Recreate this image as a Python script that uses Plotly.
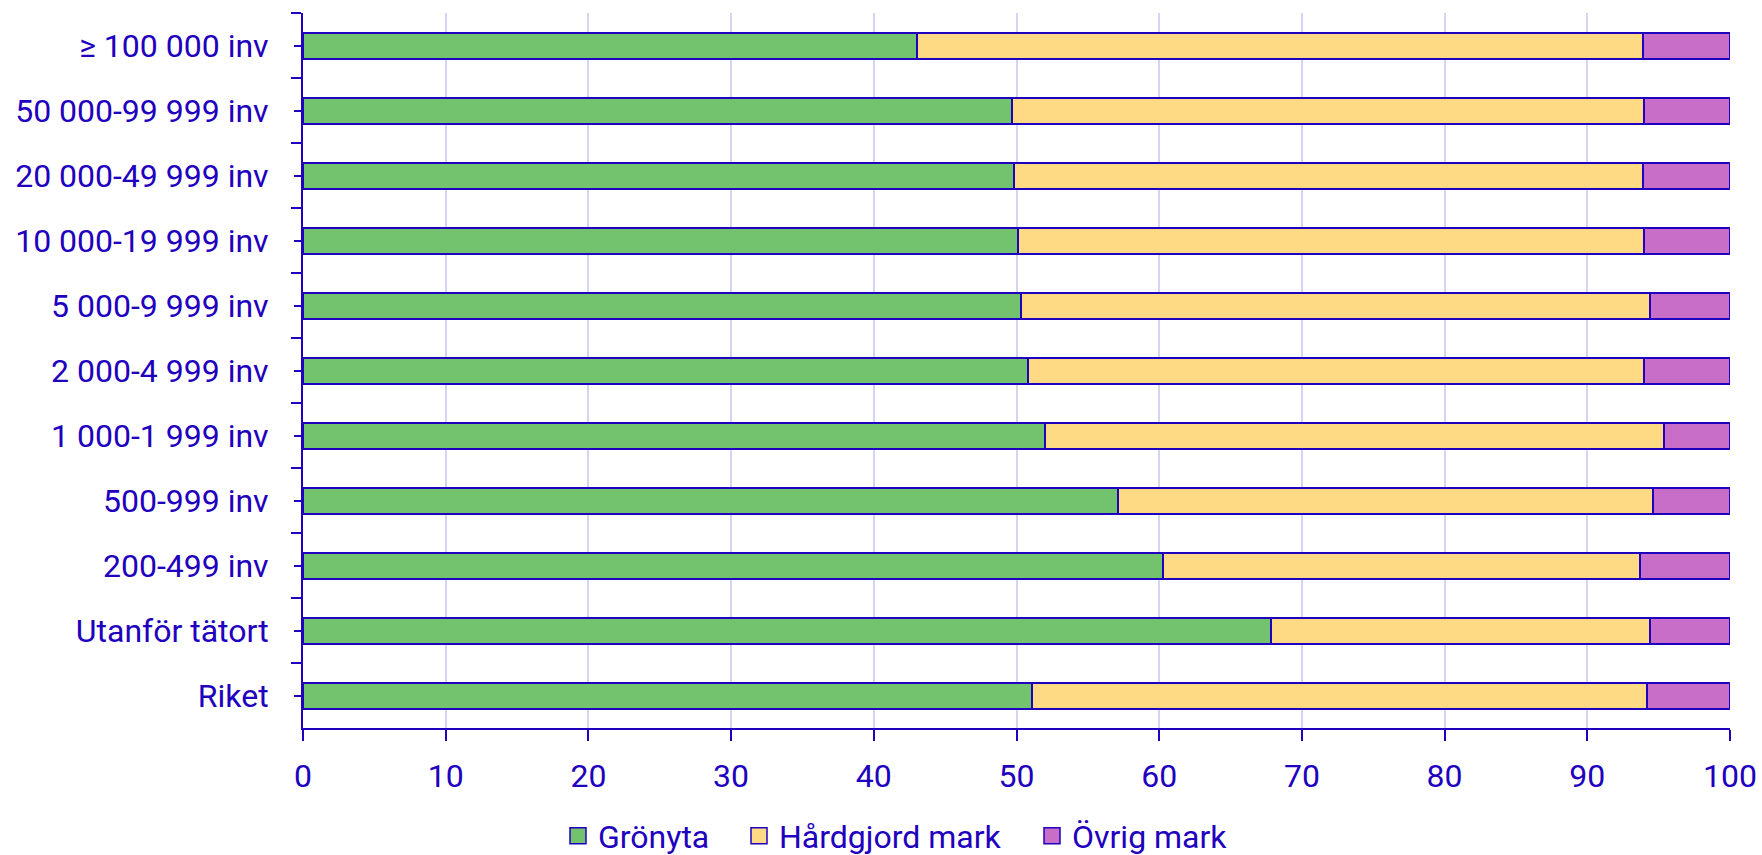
import plotly.graph_objects as go

# land cover share (%) by settlement size, top to bottom as drawn
categories = ["≥ 100 000 inv", "50 000-99 999 inv", "20 000-49 999 inv",
              "10 000-19 999 inv", "5 000-9 999 inv", "2 000-4 999 inv",
              "1 000-1 999 inv", "500-999 inv", "200-499 inv",
              "Utanför tätort", "Riket"]
gronyta = [43.0, 49.7, 49.8, 50.1, 50.3, 50.8, 52.0, 57.1, 60.3, 67.8, 51.1]
hardgjord = [50.9, 44.3, 44.1, 43.9, 44.1, 43.2, 43.4, 37.5, 33.4, 26.6, 43.1]
ovrig = [6.1, 6.0, 6.1, 6.0, 5.6, 6.0, 4.6, 5.4, 6.3, 5.6, 5.8]

BLUE = "#1E00BE"
series = [("Grönyta", gronyta, "#73C36E"),
          ("Hårdgjord mark", hardgjord, "#FFDA84"),
          ("Övrig mark", ovrig, "#C86EC8")]
legend_ids = ["legend", "legend2", "legend3"]
legend_x = [558, 739, 1032]  # left edge of each legend entry, px

fig = go.Figure()
for (name, vals, col), lg in zip(series, legend_ids):
    fig.add_trace(go.Bar(
        y=categories, x=vals, name=name, orientation="h", showlegend=False,
        marker=dict(color=col, line=dict(color=BLUE, width=2))
    ))
    # legend proxy with a bigger square symbol
    fig.add_trace(go.Scatter(
        x=[None], y=[None], name=name, mode="markers", legend=lg,
        marker=dict(symbol="square", size=20, color=col, line=dict(color=BLUE, width=1.5))
    ))

# short ticks at category centres (invisible helper trace)
fig.add_trace(go.Scatter(x=[0] * len(categories), y=list(range(len(categories))),
                         yaxis="y2", mode="markers", marker=dict(opacity=0),
                         showlegend=False, hoverinfo="skip"))

W, H = 1762, 855
legend_common = dict(orientation="h", xref="container", xanchor="left",
                     yref="container", y=1 - 836 / H, yanchor="middle",
                     font=dict(size=32, color=BLUE), bgcolor="rgba(0,0,0,0)")

fig.update_layout(
    barmode="stack",
    bargap=0.6,
    width=W, height=H,
    margin=dict(l=303, r=32, t=13, b=127),
    plot_bgcolor="white", paper_bgcolor="white",
    font=dict(family="Roboto", size=32, color=BLUE),
    xaxis=dict(range=[0, 100], dtick=10, showgrid=True, gridcolor="#D4D4F4", gridwidth=2,
               showline=True, linecolor=BLUE, linewidth=2, ticks="outside", ticklen=11,
               tickwidth=2, tickcolor=BLUE, zeroline=False, ticklabelstandoff=8,
               automargin=False),
    yaxis=dict(type="category", autorange="reversed", showline=True, linecolor=BLUE,
               linewidth=2, ticks="outside", tickson="boundaries", ticklen=10, tickwidth=2,
               tickcolor=BLUE, showgrid=False, ticklabelstandoff=26, automargin=False),
    yaxis2=dict(overlaying="y", side="left", range=[len(categories) - 0.5, -0.5],
                tickvals=list(range(len(categories))), showticklabels=False,
                ticks="outside", ticklen=8, tickwidth=2, tickcolor=BLUE,
                showgrid=False, zeroline=False, showline=False, automargin=False),
    legend=dict(x=legend_x[0] / W, **legend_common),
    legend2=dict(x=legend_x[1] / W, **legend_common),
    legend3=dict(x=legend_x[2] / W, **legend_common),
)

fig.write_html("out.html", config={"displayModeBar": False},
               post_script="document.body.style.margin='0';")
